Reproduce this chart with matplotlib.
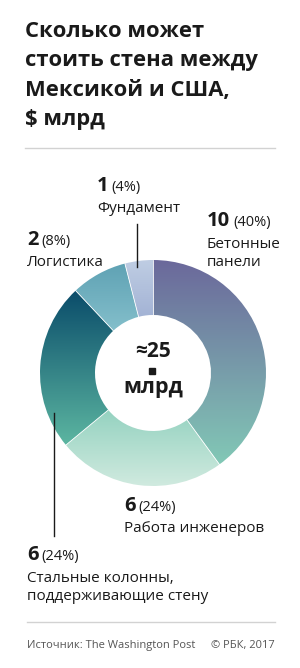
import numpy as np
import matplotlib.pyplot as plt
from matplotlib.patches import Wedge
from matplotlib.colors import to_rgb

# data
values = [10, 6, 6, 2, 1]
shares = ["(40%)", "(24%)", "(24%)", "(8%)", "(4%)"]
names = ["Бетонные\nпанели", "Работа инженеров",
         "Стальные колонны,\nподдерживающие стену", "Логистика", "Фундамент"]
# vertical gradient for each slice: (top, bottom)
grad_top = ["#6b689b", "#94d2c0", "#0a4c6a", "#5fa2b4", "#bfcde3"]
grad_bottom = ["#82c8b6", "#d0eadf", "#5cb6a1", "#84bfcb", "#a3b3d5"]

title = "Сколько может\nстоить стена между\nМексикой и США,\n$ млрд"
total_text = "≈25"
unit_text = "млрд"
source = "Источник: The Washington Post"
copyright = "© РБК, 2017"

W, H = 300, 668
plt.rcParams['font.family'] = ['Open Sans', 'DejaVu Sans']
fig = plt.figure(figsize=(W / 100, H / 100), dpi=100)
ax = fig.add_axes([0, 0, 1, 1])
ax.set_xlim(0, W)
ax.set_ylim(0, H)
ax.axis('off')


def Y(y):
    # pixel row (from top) -> data y
    return H - y


ink = "#1a1a1a"

# title
for i, line in enumerate(title.split("\n")):
    ax.text(25, Y(37 + i * 29.3), line, fontsize=15.8, fontweight='bold',
            color=ink, va='baseline', ha='left')
ax.plot([25, 275], [Y(148), Y(148)], color="#d2d2d2", lw=1)

# donut
cx, cy = 153, Y(373)
R, r = 113, 58
start = 90.0
tot = sum(values)
for v, c0, c1 in zip(values, grad_top, grad_bottom):
    ang = 360.0 * v / tot
    w = Wedge((cx, cy), R, start - ang, start, width=R - r,
              facecolor='none', edgecolor='none')
    ax.add_patch(w)
    ext = w.get_path().get_extents()
    n = 200
    t = np.linspace(0, 1, n)[:, None]
    grad = (1 - t) * np.array(to_rgb(c1)) + t * np.array(to_rgb(c0))
    im = ax.imshow(grad[:, None, :], extent=[ext.x0, ext.x1, ext.y0, ext.y1],
                   origin='lower', aspect='auto', interpolation='bilinear')
    im.set_clip_path(w)
    start -= ang
# thin white separators between slices
start = 90.0
for v in values:
    a = np.deg2rad(start)
    ax.plot([cx + r * np.cos(a), cx + R * np.cos(a)],
            [cy + r * np.sin(a), cy + R * np.sin(a)], color='white', lw=0.6)
    start -= 360.0 * v / tot

ax.set_xlim(0, W)
ax.set_ylim(0, H)

# centre text
ax.text(153, Y(357), total_text, fontsize=15, fontweight='bold', color=ink,
        ha='center', va='baseline')
ax.plot([152], [Y(371)], marker='s', markersize=4.3, color=ink, lw=0)
ax.text(153, Y(393), unit_text, fontsize=15.5, fontweight='bold', color=ink,
        ha='center', va='baseline')

fig.canvas.draw()
renderer = fig.canvas.get_renderer()


def label(x, y, val, share, name):
    t = ax.text(x, Y(y), str(val), fontsize=14.5, fontweight='bold', color=ink,
                va='baseline', ha='left')
    bb = t.get_window_extent(renderer)
    ax.text(bb.x1 + 3, Y(y), share, fontsize=10.5, color=ink,
            va='baseline', ha='left')
    for k, line in enumerate(name.split("\n")):
        ax.text(x, Y(y + 21.5 + k * 18), line, fontsize=11, color=ink,
                va='baseline', ha='left')


label(207, 226, values[0], shares[0], names[0])
label(124, 511, values[1], shares[1], names[1])
label(27, 560, values[2], shares[2], names[2])
label(27, 245, values[3], shares[3], names[3])
label(97, 191, values[4], shares[4], names[4])

# leader lines
ax.plot([137, 137], [Y(224), Y(267)], color=ink, lw=1)
ax.plot([54, 54], [Y(413), Y(536)], color=ink, lw=1)

# footer
ax.plot([27, 275], [Y(622), Y(622)], color="#d2d2d2", lw=1)
ax.text(27, Y(648), source, fontsize=8, color="#555555", va='baseline', ha='left')
ax.text(275, Y(648), copyright, fontsize=8, color="#555555", va='baseline', ha='right')

fig.savefig("out.png", dpi=100, facecolor='white')
